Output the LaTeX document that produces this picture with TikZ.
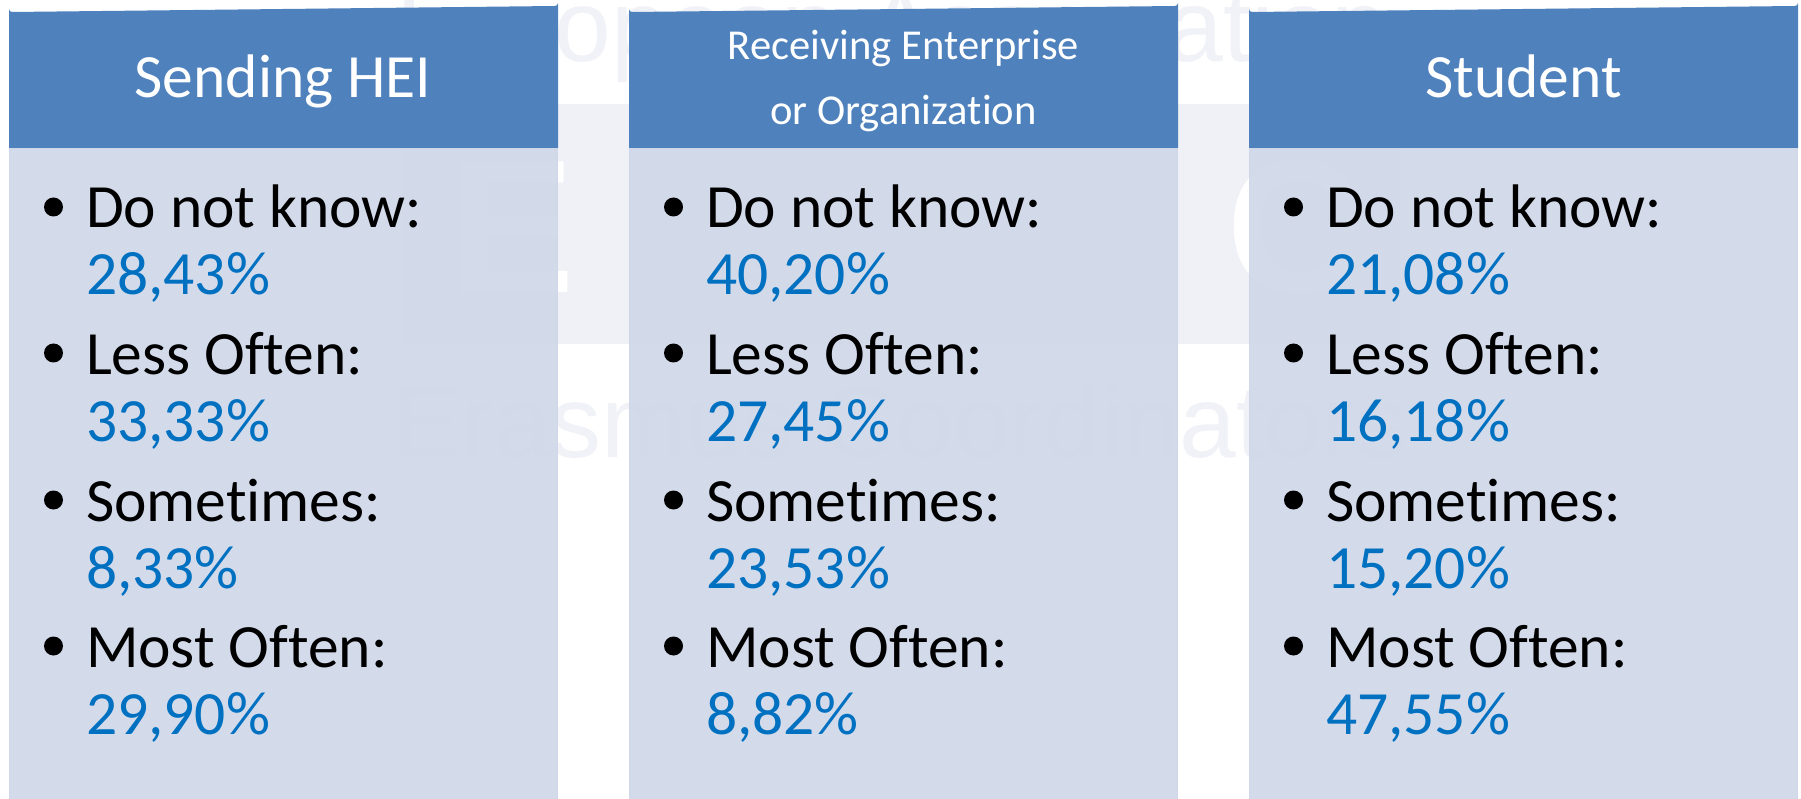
\documentclass[tikz,border=0pt]{standalone}
\usepackage{fontspec}
\setmainfont[Ligatures={NoCommon}]{Carlito}
\newfontfamily\wmfont{Liberation Sans}
\definecolor{headblue}{HTML}{4F81BD}
\definecolor{bodyblue}{HTML}{D0D8E9}
\definecolor{bodyedge}{HTML}{CED7E9}
\definecolor{valblue}{HTML}{0070C0}
\definecolor{wmgray}{HTML}{F0F1F6}
\definecolor{wmtextgray}{HTML}{F1F2F7}
\tikzset{
  txt/.style={inner sep=0pt,outer sep=0pt,anchor=base west},
  itemlabel/.style={txt,font=\fontsize{61.5}{61.5}\selectfont,text=black},
  itemvalue/.style={txt,font=\fontsize{61.5}{61.5}\selectfont,text=valblue},
  headbig/.style={inner sep=0pt,anchor=base,font=\fontsize{61.5}{61.5}\selectfont,text=white},
  headsmall/.style={inner sep=0pt,anchor=base,font=\fontsize{42.6}{42.6}\selectfont,text=white},
  dot/.style={circle,fill=black,inner sep=0pt,minimum size=19pt},
  wmtext/.style={txt,font=\wmfont\fontsize{102}{102}\selectfont,text=wmtextgray},
  wmletter/.style={txt,font=\wmfont\bfseries\fontsize{190}{190}\selectfont,text=white}
}
% #1 x offset, #2 prefix, then four values
\newcommand{\panelbody}[6]{%
  \begin{scope}[xshift=#1pt]
    \fill[bodyblue,opacity=.93] (9,148) rectangle (558,799);
    \draw[bodyedge,line width=1.5pt] (9.7,799) -- (9.7,148.7) -- (557.3,148.7) -- (557.3,799);
    \fill[headblue] (9,148) -- (9,9) arc[start angle=180,end angle=90,radius=3] -- (555,6) arc[start angle=90,end angle=0,radius=3] -- (558,148) -- cycle;
    \node[dot] (#2d1) at (53.5,207) {};
    \node[itemlabel] (#2l1) at (86,228) {Do not know:};
    \node[itemvalue] (#2v1) at (86,295) {#3};
    \node[dot] (#2d2) at (53.5,353) {};
    \node[itemlabel] (#2l2) at (86,374) {Less Often:};
    \node[itemvalue] (#2v2) at (86,441) {#4};
    \node[dot] (#2d3) at (53.5,500) {};
    \node[itemlabel] (#2l3) at (86,521) {Sometimes:};
    \node[itemvalue] (#2v3) at (86,588) {#5};
    \node[dot] (#2d4) at (53.5,646) {};
    \node[itemlabel] (#2l4) at (86,667) {Most Often:};
    \node[itemvalue] (#2v4) at (86,734) {#6};
  \end{scope}}
\begin{document}
\begin{tikzpicture}[x=1pt,y=-1pt]
\useasboundingbox (0,0) rectangle (1801,799);
\fill[white] (0,0) rectangle (1801,799);
% faint watermark behind the panels
\fill[wmgray] (402,104) rectangle (1400,344);
\node[wmletter] (wmE) at (448,293) {E};
\node[wmletter] (wmC) at (1226,293) {C};
\node[wmtext] (wmtop) at (396,62) {European Association};
\node[wmtext] (wmbottom) at (392,457) {Erasmus Coordinators};
% panels
\panelbody{0}{a}{28,43\%}{33,33\%}{8,33\%}{29,90\%}
\panelbody{620}{b}{40,20\%}{27,45\%}{23,53\%}{8,82\%}
\panelbody{1240}{c}{21,08\%}{16,18\%}{15,20\%}{47,55\%}
\node[headbig] (h1) at (283,98) {Sending HEI};
\node[headsmall] (h2a) at (903.5,60) {Receiving Enterprise};
\node[headsmall] (h2b) at (903.5,125) {or Organization};
\node[headbig] (h3) at (1523.5,98) {Student};
\end{tikzpicture}
\end{document}
